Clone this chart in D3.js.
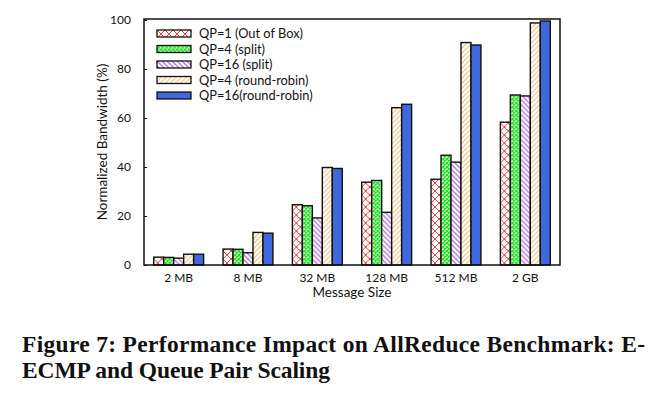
<!DOCTYPE html>
<html lang="en">
<head>
  <meta charset="UTF-8">
  <title>AllReduce Benchmark</title>
  <style>
    body { margin: 0; background: #fff; }
    svg text { fill: #111; }
  </style>
</head>
<body>
  <svg id="chart" width="662" height="397"></svg>

  <script src="https://d3js.org/d3.v7.min.js"></script>
  <script>
    // Data
    const sizes = ['2 MB', '8 MB', '32 MB', '128 MB', '512 MB', '2 GB']
    const seriesNames = ['QP=1 (Out of Box)', 'QP=4 (split)', 'QP=16 (split)', 'QP=4 (round-robin)', 'QP=16(round-robin)']
    const qp1 = [3.2, 6.5, 24.6, 33.8, 35.0, 58.3]
    const qp4Split = [3.1, 6.4, 24.2, 34.5, 44.8, 69.4]
    const qp16Split = [2.8, 5.0, 19.2, 21.5, 42.0, 69.0]
    const qp4RR = [4.4, 13.3, 39.8, 64.2, 90.8, 98.8]
    const qp16RR = [4.4, 13.0, 39.4, 65.6, 89.8, 99.6]
    const yTicks = [0, 20, 40, 60, 80, 100]

    const allSeries = [qp1, qp4Split, qp16Split, qp4RR, qp16RR]
    const fills = ['url(#pRed)', 'url(#pGreen)', 'url(#pPurple)', 'url(#pOrange)', '#4068dd']

    const margin = { top: 19, right: 102, bottom: 132, left: 144 }
    const width = 662 - margin.left - margin.right
    const height = 397 - margin.top - margin.bottom
    const font = 'Lato, "Open Sans", sans-serif'

    const svg = d3.select('#chart')

    // Patterns
    const defs = svg.append('defs')
    const addPattern = (id, size, draw) => {
      const p = defs.append('pattern')
        .attr('id', id)
        .attr('patternUnits', 'userSpaceOnUse')
        .attr('width', size)
        .attr('height', size)
      p.append('rect').attr('width', size).attr('height', size).attr('fill', '#fff')
      draw(p, size)
    }
    // red cross-hatch
    addPattern('pRed', 8, (p, s) => {
      p.append('path').attr('d', `M0,0L${s},${s}M${s},0L0,${s}`)
        .attr('stroke', '#f02020').attr('stroke-width', 0.9)
    })
    // green dense cross-hatch
    addPattern('pGreen', 4, (p, s) => {
      p.append('path').attr('d', `M0,0L${s},${s}M${s},0L0,${s}`)
        .attr('stroke', '#22dd22').attr('stroke-width', 1.4)
    })
    // purple back-diagonal
    addPattern('pPurple', 5, (p, s) => {
      p.append('path').attr('d', `M0,0L${s},${s}M${-s},0L${s},${2 * s}M0,${-s}L${2 * s},${s}`)
        .attr('stroke', '#bf7de8').attr('stroke-width', 1.5)
    })
    // orange forward-diagonal
    addPattern('pOrange', 5, (p, s) => {
      p.append('path').attr('d', `M0,${s}L${s},0M${-s},${s}L${s},${-s}M0,${2 * s}L${2 * s},0`)
        .attr('stroke', '#f2c27a').attr('stroke-width', 1.2)
    })

    const g = svg.append('g').attr('transform', `translate(${margin.left},${margin.top})`)

    // Scales
    const x0 = d3.scaleBand()
      .domain(sizes)
      .range([0, width])
      .paddingInner(0.28)
      .paddingOuter(0.14)

    const x1 = d3.scaleBand()
      .domain(d3.range(allSeries.length))
      .range([0, x0.bandwidth()])

    const y = d3.scaleLinear()
      .domain([0, 100])
      .range([height, 1])

    // Bars
    const groups = g.selectAll('.group')
      .data(sizes)
      .enter()
      .append('g')
      .attr('transform', d => `translate(${x0(d)},0)`)

    groups.selectAll('rect')
      .data((d, i) => allSeries.map((s, k) => ({ k, value: s[i] })))
      .enter()
      .append('rect')
      .attr('x', d => x1(d.k))
      .attr('y', d => y(d.value))
      .attr('width', x1.bandwidth())
      .attr('height', d => height - y(d.value))
      .attr('fill', d => fills[d.k])
      .attr('stroke', '#111')
      .attr('stroke-width', 1.4)

    // Frame
    g.append('rect')
      .attr('width', width)
      .attr('height', height)
      .attr('fill', 'none')
      .attr('stroke', '#111')
      .attr('stroke-width', 1.5)

    // Left axis, ticks inward
    const leftAxis = d3.axisLeft(y)
      .tickValues(yTicks)
      .tickSize(-3)
      .tickPadding(13)
    const ya = g.append('g').call(leftAxis)
    ya.select('.domain').remove()
    ya.selectAll('line').attr('stroke', '#111')
    ya.selectAll('text').attr('font-family', font).attr('font-size', 12).attr('fill', '#111')

    // Bottom axis labels
    const bottomAxis = d3.axisBottom(x0).tickSize(0).tickPadding(8)
    const xa = g.append('g').attr('transform', `translate(0,${height})`).call(bottomAxis)
    xa.select('.domain').remove()
    xa.selectAll('text').attr('font-family', font).attr('font-size', 12).attr('fill', '#111')

    // Axis titles
    svg.append('text')
      .attr('transform', `translate(107,${margin.top + height / 2}) rotate(-90)`)
      .attr('text-anchor', 'middle')
      .attr('font-family', font)
      .attr('font-size', 13.5)
      .text('Normalized Bandwidth (%)')

    svg.append('text')
      .attr('x', margin.left + width / 2)
      .attr('y', 297)
      .attr('text-anchor', 'middle')
      .attr('font-family', font)
      .attr('font-size', 13.5)
      .text('Message Size')

    // Legend
    const legend = g.append('g').attr('transform', 'translate(13,11)')
    const rows = legend.selectAll('g')
      .data(seriesNames)
      .enter()
      .append('g')
      .attr('transform', (d, i) => `translate(0,${i * 15.5})`)
    rows.append('rect')
      .attr('width', 34)
      .attr('height', 7)
      .attr('fill', (d, i) => fills[i])
      .attr('stroke', '#111')
      .attr('stroke-width', 1.3)
    rows.append('text')
      .attr('x', 42)
      .attr('y', 8)
      .attr('font-family', font)
      .attr('font-size', 12.8)
      .text(d => d)

    // Caption
    const caption = svg.append('g')
      .attr('font-family', '"Liberation Serif", "DejaVu Serif", serif')
      .attr('font-weight', 'bold')
      .attr('font-size', 23.5)
    caption.append('text')
      .attr('x', 22).attr('y', 352)
      .attr('textLength', 623).attr('lengthAdjust', 'spacing')
      .text('Figure 7: Performance Impact on AllReduce Benchmark: E-')
    caption.append('text')
      .attr('x', 22).attr('y', 378)
      .attr('textLength', 308).attr('lengthAdjust', 'spacing')
      .text('ECMP and Queue Pair Scaling')
  </script>
</body>
</html>
